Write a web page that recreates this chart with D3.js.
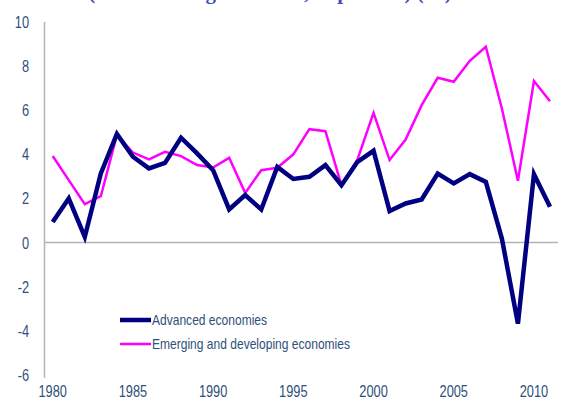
<!DOCTYPE html>
<html>
<head>
<meta charset="utf-8">
<script src="https://cdn.jsdelivr.net/npm/d3@7"></script>
<style>
  body { margin: 0; background: #fff; }
  svg { display: block; }
  .tick-label { font-family: "Liberation Sans", Arial, sans-serif; font-size: 16px; fill: #2f4f7a; }
  .legend-text { font-family: "Liberation Sans", Arial, sans-serif; font-size: 14px; fill: #2f4f7a; }
</style>
</head>
<body>
<div id="chart"></div>
<script>
const years = d3.range(1980, 2012);

const advanced = [0.93, 2.0, 0.25, 3.13, 4.92, 3.89, 3.36, 3.61, 4.75, 4.04,
  3.28, 1.5, 2.15, 1.5, 3.43, 2.88, 2.98, 3.51, 2.6, 3.66,
  4.16, 1.43, 1.77, 1.95, 3.13, 2.68, 3.1, 2.75, 0.18, -3.68,
  3.1, 1.62];

const emerging = [3.92, 2.83, 1.74, 2.1, 4.87, 4.08, 3.77, 4.11, 3.92, 3.51,
  3.4, 3.84, 2.25, 3.28, 3.39, 4.0, 5.14, 5.05, 2.6, 3.77,
  5.88, 3.74, 4.67, 6.23, 7.47, 7.29, 8.24, 8.88, 6.08, 2.8,
  7.32, 6.41];

const yTicks = [10, 8, 6, 4, 2, 0, -2, -4, -6];
const xTicks = [1980, 1985, 1990, 1995, 2000, 2005, 2010];

const seriesNames = ["Advanced economies", "Emerging and developing economies"];

const width = 567;
const height = 403;
const narrow = 0.8; // squeeze text to look like Arial Narrow

const svg = d3.select("#chart")
  .append("svg")
  .attr("width", width)
  .attr("height", height);

// title, mostly cut off at the top edge (as in the original)
svg.append("text")
  .attr("x", 270)
  .attr("y", -1)
  .attr("text-anchor", "middle")
  .style("font-family", "Liberation Serif, serif")
  .style("font-weight", "bold")
  .style("font-size", "21px")
  .style("fill", "#4a4ac0")
  .text("(annual changes in GDP, in percent) (%)");

const x = d3.scaleLinear()
  .domain([1980, 2011])
  .range([52.7, 550]);

const y = d3.scaleLinear()
  .domain([-6, 10])
  .range([374.8, 22]);

// axes lines
svg.append("line")
  .attr("x1", 44.5).attr("x2", 44.5)
  .attr("y1", y(10)).attr("y2", y(-6) + 3)
  .attr("stroke", "#b3b3b3")
  .attr("stroke-width", 1.5);

svg.append("line")
  .attr("x1", 44.5).attr("x2", 558)
  .attr("y1", y(0)).attr("y2", y(0))
  .attr("stroke", "#b3b3b3")
  .attr("stroke-width", 1.5);

svg.selectAll(".ylab")
  .data(yTicks)
  .join("text")
  .attr("class", "tick-label")
  .attr("transform", d => `translate(29,${y(d) + 6}) scale(${narrow},1)`)
  .attr("text-anchor", "end")
  .text(d => d);

svg.selectAll(".xlab")
  .data(xTicks)
  .join("text")
  .attr("class", "tick-label")
  .attr("transform", d => `translate(${x(d)},397) scale(${narrow},1)`)
  .attr("text-anchor", "middle")
  .text(d => d);

const line = d3.line()
  .x((d, i) => x(years[i]))
  .y(d => y(d));

svg.append("path")
  .datum(emerging)
  .attr("d", line)
  .attr("fill", "none")
  .attr("stroke", "#ff00ff")
  .attr("stroke-width", 2.5)
  .attr("stroke-linejoin", "miter");

svg.append("path")
  .datum(advanced)
  .attr("d", line)
  .attr("fill", "none")
  .attr("stroke", "#000080")
  .attr("stroke-width", 4.5)
  .attr("stroke-linejoin", "miter");

// legend
const legend = svg.append("g");
const legendColors = ["#000080", "#ff00ff"];
const legendWidths = [4.5, 2.5];

seriesNames.forEach((name, i) => {
  const ly = 320 + i * 24;
  legend.append("line")
    .attr("x1", 120).attr("x2", 151)
    .attr("y1", ly).attr("y2", ly)
    .attr("stroke", legendColors[i])
    .attr("stroke-width", legendWidths[i]);
  legend.append("text")
    .attr("class", "legend-text")
    .attr("transform", `translate(152,${ly + 5}) scale(0.86,1)`)
    .text(name);
});
</script>
</body>
</html>
